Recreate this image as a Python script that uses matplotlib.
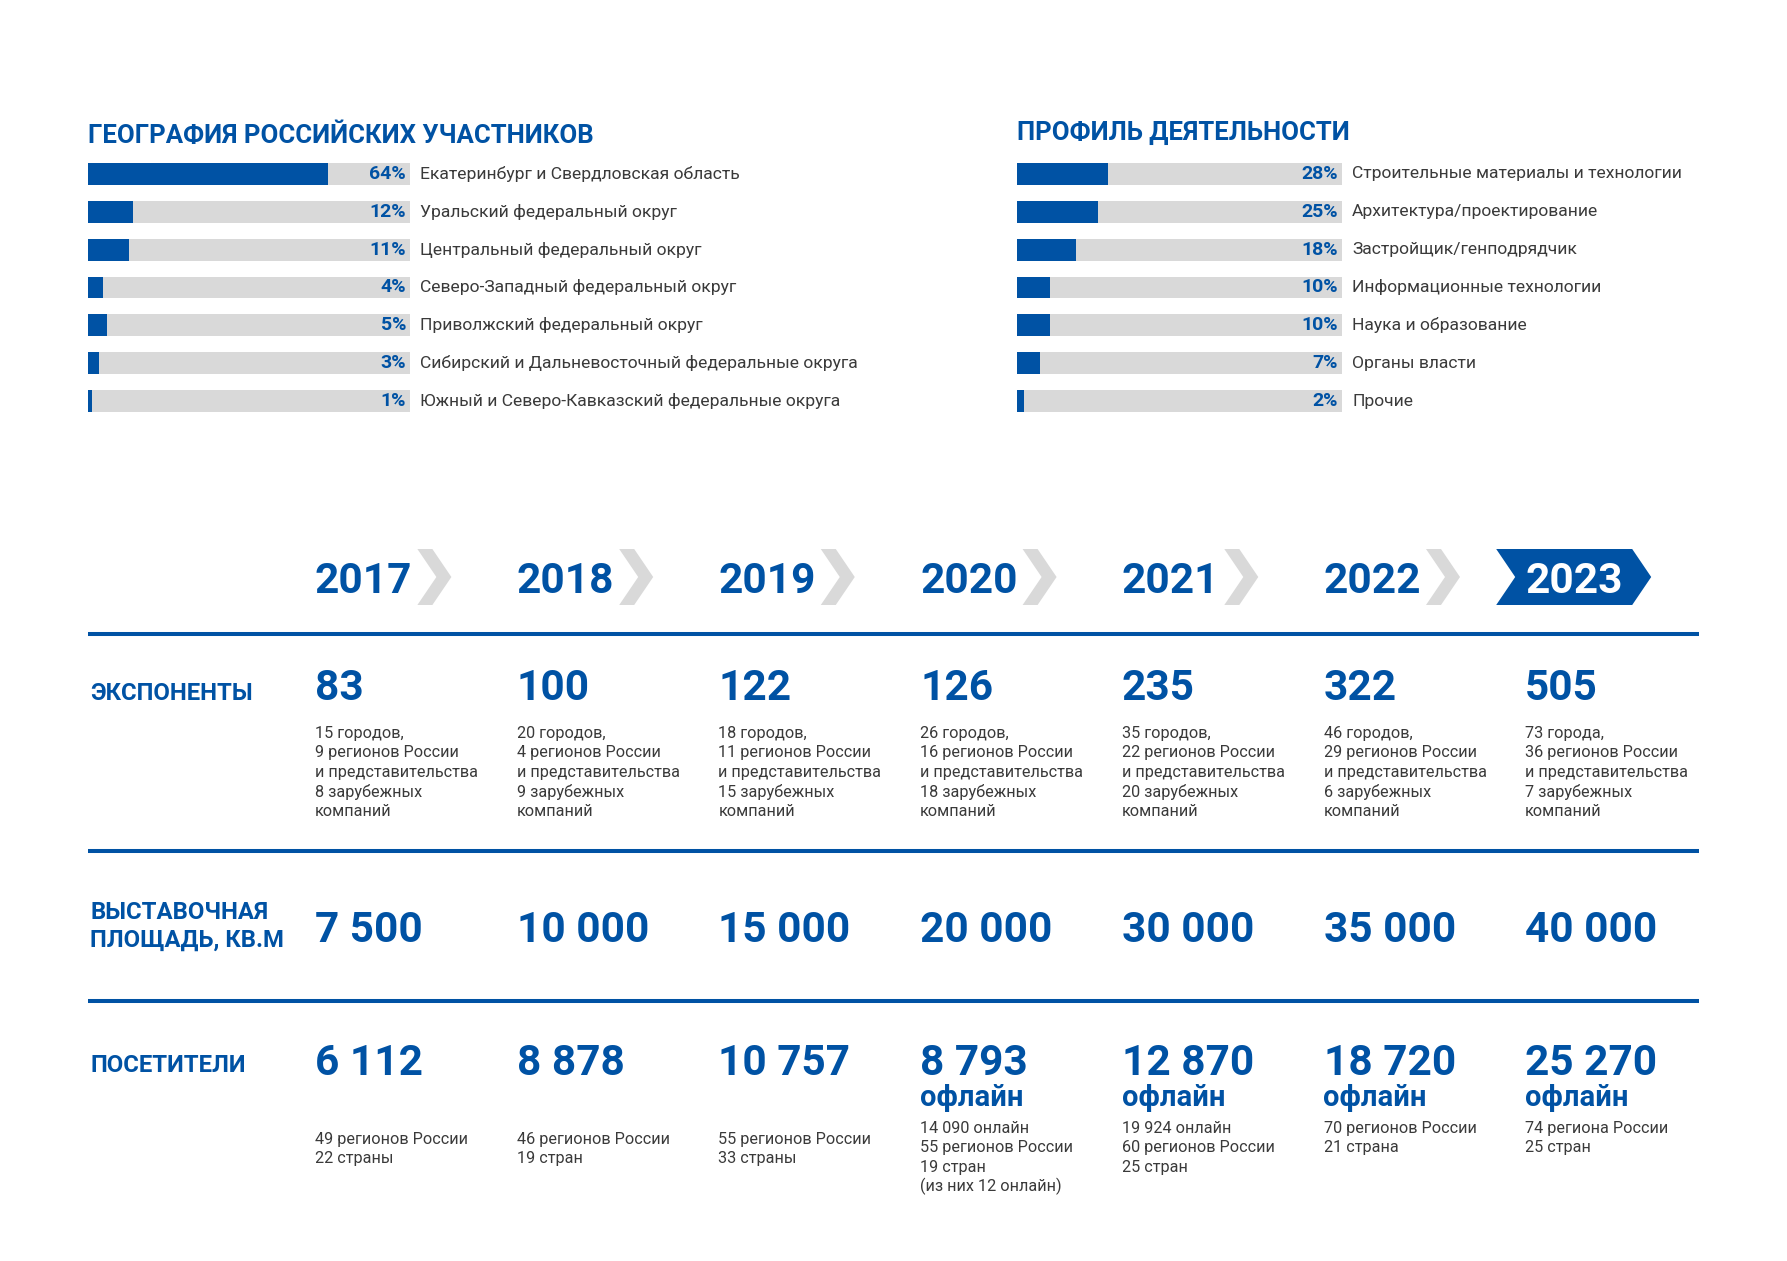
import matplotlib
matplotlib.use("Agg")
import matplotlib.pyplot as plt
from matplotlib.patches import Polygon
from matplotlib import transforms

plt.rcParams['font.family'] = ['Roboto', 'DejaVu Sans']

BLUE = '#0052a4'
GREY = '#d9d9d9'
TEXT = '#3a3a3a'

W, H = 1787, 1261

# ---- data ----
geo_title = "ГЕОГРАФИЯ РОССИЙСКИХ УЧАСТНИКОВ"
geo_labels = ["Екатеринбург и Свердловская область",
              "Уральский федеральный округ",
              "Центральный федеральный округ",
              "Северо-Западный федеральный округ",
              "Приволжский федеральный округ",
              "Сибирский и Дальневосточный федеральные округа",
              "Южный и Северо-Кавказский федеральные округа"]
geo_values = [64, 12, 11, 4, 5, 3, 1]

prof_title = "ПРОФИЛЬ ДЕЯТЕЛЬНОСТИ"
prof_labels = ["Строительные материалы и технологии",
               "Архитектура/проектирование",
               "Застройщик/генподрядчик",
               "Информационные технологии",
               "Наука и образование",
               "Органы власти",
               "Прочие"]
prof_values = [28, 25, 18, 10, 10, 7, 2]

years = [2017, 2018, 2019, 2020, 2021, 2022, 2023]
exhibitors = [83, 100, 122, 126, 235, 322, 505]
exhibitor_notes = [
    ["15 городов,", "9 регионов России", "и представительства", "8 зарубежных", "компаний"],
    ["20 городов,", "4 регионов России", "и представительства", "9 зарубежных", "компаний"],
    ["18 городов,", "11 регионов России", "и представительства", "15 зарубежных", "компаний"],
    ["26 городов,", "16 регионов России", "и представительства", "18 зарубежных", "компаний"],
    ["35 городов,", "22 регионов России", "и представительства", "20 зарубежных", "компаний"],
    ["46 городов,", "29 регионов России", "и представительства", "6 зарубежных", "компаний"],
    ["73 города,", "36 регионов России", "и представительства", "7 зарубежных", "компаний"],
]
area = [7500, 10000, 15000, 20000, 30000, 35000, 40000]
visitors = [6112, 8878, 10757, 8793, 12870, 18720, 25270]
offline = [False, False, False, True, True, True, True]
visitor_notes = [
    ["49 регионов России", "22 страны"],
    ["46 регионов России", "19 стран"],
    ["55 регионов России", "33 страны"],
    ["14 090 онлайн", "55 регионов России", "19 стран", "(из них 12 онлайн)"],
    ["19 924 онлайн", "60 регионов России", "25 стран"],
    ["70 регионов России", "21 страна"],
    ["74 региона России", "25 стран"],
]
row_titles = ["ЭКСПОНЕНТЫ", "ВЫСТАВОЧНАЯ\nПЛОЩАДЬ, КВ.М", "ПОСЕТИТЕЛИ"]


def fmt(n):
    return f"{n:,}".replace(",", " ")


fig = plt.figure(figsize=(W / 100, H / 100), dpi=100)
fig.patch.set_facecolor('white')

# full-figure overlay in pixel coordinates (y down)
ov = fig.add_axes([0, 0, 1, 1])
ov.set_xlim(0, W)
ov.set_ylim(H, 0)
ov.axis('off')


def bar_panel(x0, x1, scale, labels, values, title, title_base):
    top, bottom = 155, 420
    ax = fig.add_axes([x0 / W, 1 - bottom / H, (x1 - x0) / W, (bottom - top) / H])
    rows = list(range(len(values)))
    ax.barh(rows, [scale] * len(values), height=0.58, color=GREY)
    ax.barh(rows, values, height=0.58, color=BLUE)
    ax.set_xlim(0, scale)
    ax.set_ylim(len(values) - 0.5, -0.5)
    ax.axis('off')
    tr = transforms.blended_transform_factory(ax.transAxes, ax.transData)
    tr_pct = transforms.offset_copy(tr, fig=fig, x=-4, y=0, units='dots')
    tr_lab = transforms.offset_copy(tr, fig=fig, x=10, y=0, units='dots')
    for i, (lab, v) in enumerate(zip(labels, values)):
        ax.text(1, i, f"{v}%", transform=tr_pct, ha='right', va='center',
                fontsize=14, fontweight='bold', color=BLUE)
        ax.text(1, i, lab, transform=tr_lab, ha='left', va='center',
                fontsize=12.6, color=TEXT)
    ov.text(x0, title_base, title, ha='left', va='baseline',
            fontsize=18.5, fontweight='bold', color=BLUE)


# left panel: bar scale so that the grey track is ~86%
bar_panel(88, 410, 86, geo_labels, geo_values, geo_title, 143)
bar_panel(1017, 1342, 100, prof_labels, prof_values, prof_title, 140)

# ---- timeline ----
col_x = [315 + 201.7 * i for i in range(len(years))]
BIG = 30.5

renderer = fig.canvas.get_renderer()
inv = ov.transData.inverted()

for i, (x, yr) in enumerate(zip(col_x, years)):
    last = i == len(years) - 1
    t = ov.text(x, 593, str(yr), ha='left', va='baseline', fontsize=BIG,
                fontweight='bold', color='white' if last else BLUE, zorder=5)
    if last:
        pts = [(x - 29, 549), (x + 107, 549), (x + 126, 577),
               (x + 107, 605), (x - 29, 605), (x - 10, 577)]
        ov.add_patch(Polygon(pts, closed=True, color=BLUE, lw=0, zorder=2))
    else:
        bb = t.get_window_extent(renderer)
        cx = inv.transform((bb.x1, bb.y0))[0] + 5
        pts = [(cx, 549), (cx + 15, 549), (cx + 34, 577),
               (cx + 15, 605), (cx, 605), (cx + 19, 577)]
        ov.add_patch(Polygon(pts, closed=True, color=GREY, lw=0, zorder=2))

for y in [634, 851, 1001]:
    ov.plot([88, 1699], [y, y], color=BLUE, lw=2.9, solid_capstyle='butt')

# row titles
ov.text(90, 700, row_titles[0], ha='left', va='baseline', fontsize=17.2,
        fontweight='bold', color=BLUE)
for j, line in enumerate(row_titles[1].split("\n")):
    ov.text(90, 919 + 28 * j, line, ha='left', va='baseline', fontsize=17.2,
            fontweight='bold', color=BLUE)
ov.text(90, 1072, row_titles[2], ha='left', va='baseline', fontsize=17.2,
        fontweight='bold', color=BLUE)

NOTE = 11.7
for i, x in enumerate(col_x):
    # exhibitors
    ov.text(x, 700, fmt(exhibitors[i]), ha='left', va='baseline', fontsize=BIG,
            fontweight='bold', color=BLUE)
    for j, line in enumerate(exhibitor_notes[i]):
        ov.text(x, 738 + 19.5 * j, line, ha='left', va='baseline',
                fontsize=NOTE, color=TEXT)
    # exhibition area
    ov.text(x, 942, fmt(area[i]), ha='left', va='baseline', fontsize=BIG,
            fontweight='bold', color=BLUE)
    # visitors
    ov.text(x, 1075, fmt(visitors[i]), ha='left', va='baseline', fontsize=BIG,
            fontweight='bold', color=BLUE)
    if offline[i]:
        ov.text(x, 1106, "офлайн", ha='left', va='baseline', fontsize=21,
                fontweight='bold', color=BLUE)
        y0 = 1133
    else:
        y0 = 1144
    for j, line in enumerate(visitor_notes[i]):
        ov.text(x, y0 + 19.3 * j, line, ha='left', va='baseline',
                fontsize=NOTE, color=TEXT)

fig.savefig("out.png", dpi=100)
